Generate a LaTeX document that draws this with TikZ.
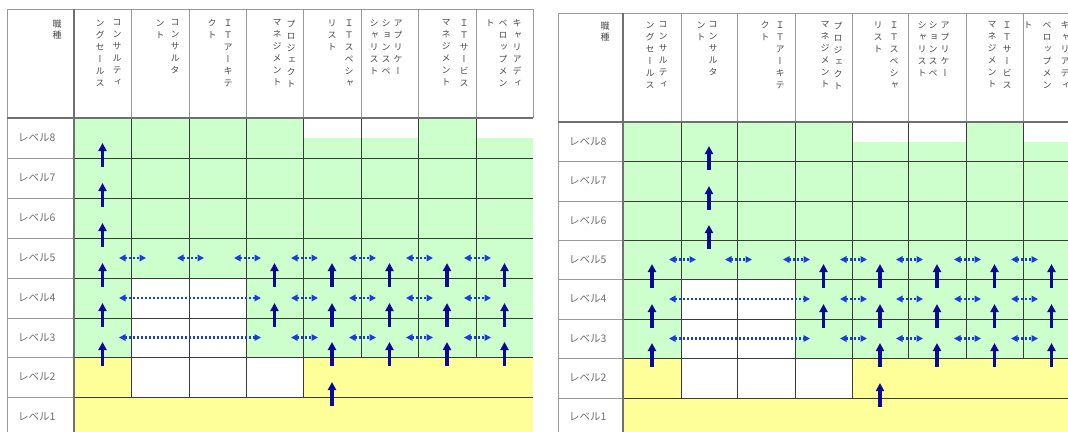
\documentclass[tikz,border=0pt]{standalone}
\usepackage{fontspec}
\newfontfamily\jp{Noto Sans CJK JP}
\newfontfamily\jpv[RawFeature=+vert]{Noto Sans CJK JP}
\usetikzlibrary{arrows.meta,calc}
\definecolor{lgreen}{HTML}{CCFFCC}
\definecolor{lyellow}{HTML}{FFFF99}
\definecolor{navy}{HTML}{0A0A96}
\definecolor{dotblue}{HTML}{1A3CD8}
\definecolor{gridd}{HTML}{3A3A3A}
\definecolor{gridl}{HTML}{9A9A9A}
\definecolor{thickc}{HTML}{707070}
\definecolor{txthdr}{HTML}{4A4A4A}
\definecolor{txtlbl}{HTML}{6E6E6E}
\tikzset{
  hdrtext/.style={font=\jpv\fontsize{9}{12}\selectfont, align=center, inner sep=0pt, text=txthdr, anchor=north},
  hdrtitle/.style={font=\jp\fontsize{9}{11}\selectfont, align=center, inner sep=0pt, text=txthdr, anchor=north},
  lvltext/.style={font=\jp\fontsize{10.5}{12}\selectfont, inner sep=0pt, text=txtlbl, anchor=west},
  darkgrid/.style={draw=gridd, line width=0.9pt},
  lightgrid/.style={draw=gridl, line width=1pt},
  thickgrid/.style={draw=thickc, line width=2.6pt},
  uparrow/.style={draw=navy, line width=3.8pt, -{Triangle[length=8pt,width=8pt]}},
  dotarrow/.style={draw=dotblue, line width=2.4pt, dash pattern=on 2pt off 2pt,
    {Triangle[length=6.5pt,width=6.5pt]}-{Triangle[length=6.5pt,width=6.5pt]}},
}
% table geometry: name, column x's, row y's, header text top
\newcommand\deftable[4]{%
  \foreach \v [count=\i from 0] in {#2} {\coordinate (#1c\i) at (\v,0);}
  \foreach \v [count=\i from 0] in {#3} {\coordinate (#1r\i) at (0,\v);}
  \foreach \i [evaluate=\i as \k using int(\i+1)] in {1,...,8} {\coordinate (#1m\i) at ($(#1c\i)!0.5!(#1c\k)$);}
  \foreach \j [evaluate=\j as \k using int(\j+1)] in {1,...,8} {\coordinate (#1y\j) at ($(#1r\j)!0.5!(#1r\k)$);}
  \coordinate (#1rh) at ($(#1r1)!0.5!(#1r2)$);
  \coordinate (#1ht) at (0,#4);
}
\newcommand\drawtable[1]{%
  % fills
  \fill[lgreen] (#1c1|-#1r1) rectangle (#1c9|-#1r7);
  \fill[white] (#1c5|-#1r1) rectangle (#1c7|-#1rh);
  \fill[white] (#1c8|-#1r1) rectangle (#1c9|-#1rh);
  \fill[white] (#1c2|-#1r5) rectangle (#1c4|-#1r7);
  \fill[lyellow] (#1c1|-#1r7) rectangle (#1c2|-#1r8);
  \fill[lyellow] (#1c5|-#1r7) rectangle (#1c9|-#1r8);
  \fill[lyellow] (#1c1|-#1r8) rectangle (#1c9|-#1r9);
  % light grid
  \draw[lightgrid] (#1c0|-#1r0) -- (#1c9|-#1r0);
  \foreach \i in {2,...,9} {\draw[lightgrid] (#1c\i|-#1r0) -- (#1c\i|-#1r1);}
  \draw[lightgrid] (#1c0|-#1r0) -- (#1c0|-#1r9);
  \foreach \j in {2,...,8} {\draw[lightgrid] (#1c0|-#1r\j) -- (#1c1|-#1r\j);}
  % dark grid
  \foreach \i in {2,...,5} {\draw[darkgrid] (#1c\i|-#1r1) -- (#1c\i|-#1r8);}
  \foreach \i in {6,7,8} {\draw[darkgrid] (#1c\i|-#1r1) -- (#1c\i|-#1r7);}
  \foreach \j in {2,...,8} {\draw[darkgrid] (#1c1|-#1r\j) -- (#1c9|-#1r\j);}
  % thick
  \draw[thickgrid] (#1c0|-#1r1) -- (#1c9|-#1r1);
  \draw[thickgrid] (#1c1|-#1r0) -- (#1c1|-#1r9);
  % level labels
  \foreach \j/\n in {1/8,2/7,3/6,4/5,5/4,6/3,7/2,8/1}
    {\node[lvltext] (#1L\n) at ($(#1c0|-#1y\j)+(11,0)$) {レベル\n};}
}
\newcommand\hcol[5]{\node[hdrtext] (#1H#4) at ($(#1c#2|-#1ht)+(#3,0)$) {#5};}
\newcommand\uparr[3]{%
  \coordinate (#1u#2-#3s) at ($(#1m#2|-#1r#3)+(0,9)$);
  \coordinate (#1u#2-#3e) at ($(#1m#2|-#1r#3)+(0,-15)$);
  \draw[uparrow] (#1u#2-#3s) -- (#1u#2-#3e);}
\newcommand\harr[4]{%
  \coordinate (#1h#2-#3s) at ($(#1c#3|-#1y#2)+(-12,0)$);
  \coordinate (#1h#2-#3e) at ($(#1c#4|-#1y#2)+(15,0)$);
  \draw[dotarrow] (#1h#2-#3s) -- (#1h#2-#3e);}
\newcommand\allarrows[1]{%
  \foreach \r in {5,6} {\uparr{#1}{4}{\r}}
  \foreach \r in {5,...,8} {\uparr{#1}{5}{\r}}
  \foreach \c in {6,7,8} {\foreach \r in {5,6,7} {\uparr{#1}{\c}{\r}}}
  \foreach \c in {2,...,8} {\harr{#1}{4}{\c}{\c}}
  \foreach \rr in {5,6} {\harr{#1}{\rr}{2}{4}\foreach \c in {5,...,8} {\harr{#1}{\rr}{\c}{\c}}}
}
\newcommand\JTa{コ\\ン\\サ\\ル\\テ\\ィ}
\newcommand\JTb{ン\\グ\\セ\\ー\\ル\\ス}
\newcommand\JTc{コ\\ン\\サ\\ル\\タ}
\newcommand\JTd{ン\\ト}
\newcommand\JTe{Ｉ\\Ｔ\\ア\\ー\\キ\\テ}
\newcommand\JTf{ク\\ト}
\newcommand\JTg{プ\\ロ\\ジ\\ェ\\ク\\ト}
\newcommand\JTh{マ\\ネ\\ジ\\メ\\ン\\ト}
\newcommand\JTi{Ｉ\\Ｔ\\ス\\ペ\\シ\\ャ}
\newcommand\JTj{リ\\ス\\ト}
\newcommand\JTk{ア\\プ\\リ\\ケ\\ー}
\newcommand\JTl{シ\\ョ\\ン\\ス\\ペ}
\newcommand\JTm{シ\\ャ\\リ\\ス\\ト}
\newcommand\JTn{Ｉ\\Ｔ\\サ\\ー\\ビ\\ス}
\newcommand\JTo{キ\\ャ\\リ\\ア\\デ\\ィ}
\newcommand\JTp{ベ\\ロ\\ッ\\プ\\メ\\ン}
\newcommand\JTq{ト}
\begin{document}
\begin{tikzpicture}[x=1pt,y=-1pt]
\useasboundingbox (0,0) rectangle (1068,431);
\clip (0,0) rectangle (1068,431);
\fill[white] (0,0) rectangle (1068,431);
\deftable{L}{7,74,131,189,246,303,361,418,476,533}{9,118,158,198,238,278,318,357,397,436}{19.5}
\deftable{R}{558,623,681,737,795,852,908,966,1023,1080}{13,122,161,201,240,279,319,358,398,436}{21.5}
\drawtable{L}
\drawtable{R}
% header texts, left table
\node[hdrtitle] (LHt) at ($(Lc1|-Lht)+(-17,0)$) {職\\種};
\hcol{L}{2}{-14}{1a}{\JTa}\hcol{L}{2}{-31}{1b}{\JTb}
\hcol{L}{3}{-14}{2a}{\JTc}\hcol{L}{3}{-29}{2b}{\JTd}
\hcol{L}{4}{-18}{3a}{\JTe}\hcol{L}{4}{-34}{3b}{\JTf}
\hcol{L}{5}{-12}{4a}{\JTg}\hcol{L}{5}{-26}{4b}{\JTh}
\hcol{L}{6}{-12}{5a}{\JTi}\hcol{L}{6}{-29}{5b}{\JTj}
\hcol{L}{7}{-20}{6a}{\JTk}\hcol{L}{7}{-32}{6b}{\JTl}\hcol{L}{7}{-44}{6c}{\JTm}
\hcol{L}{8}{-12}{7a}{\JTn}\hcol{L}{8}{-30}{7b}{\JTh}
\hcol{L}{9}{-16}{8a}{\JTo}\hcol{L}{9}{-30}{8b}{\JTp}\hcol{L}{9}{-43}{8c}{\JTq}
% header texts, right table
\node[hdrtitle] (RHt) at ($(Rc1|-Rht)+(-18,0)$) {職\\種};
\hcol{R}{2}{-18}{1a}{\JTa}\hcol{R}{2}{-31}{1b}{\JTb}
\hcol{R}{3}{-24}{2a}{\JTc}\hcol{R}{3}{-36}{2b}{\JTd}
\hcol{R}{4}{-15}{3a}{\JTe}\hcol{R}{4}{-30}{3b}{\JTf}
\hcol{R}{5}{-14}{4a}{\JTg}\hcol{R}{5}{-27}{4b}{\JTh}
\hcol{R}{6}{-14}{5a}{\JTi}\hcol{R}{6}{-30}{5b}{\JTj}
\hcol{R}{7}{-21}{6a}{\JTk}\hcol{R}{7}{-33}{6b}{\JTl}\hcol{R}{7}{-44}{6c}{\JTm}
\hcol{R}{8}{-16}{7a}{\JTn}\hcol{R}{8}{-31}{7b}{\JTh}
\hcol{R}{9}{-15}{8a}{\JTo}\hcol{R}{9}{-33}{8b}{\JTp}\hcol{R}{9}{-52}{8c}{\JTq}
% arrows
\foreach \r in {2,...,7} {\uparr{L}{1}{\r}}
\allarrows{L}
\foreach \r in {5,6,7} {\uparr{R}{1}{\r}}
\foreach \r in {2,3,4} {\uparr{R}{2}{\r}}
\allarrows{R}
\end{tikzpicture}
\end{document}
